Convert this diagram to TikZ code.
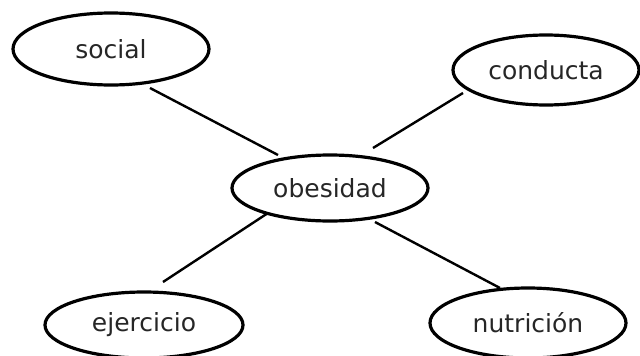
\documentclass[tikz,border=0pt]{standalone}
\usepackage{fontspec}
\setmainfont{DejaVu Sans}
\usetikzlibrary{shapes.geometric}
\begin{document}
\begin{tikzpicture}[x=1pt,y=-1pt,
  bubble/.style={ellipse,draw=black,line width=3.2pt,inner sep=0pt,outer sep=0pt,
    text=black!85,font=\fontsize{25}{30}\selectfont},
  link/.style={draw=black,line width=2.4pt}]
\useasboundingbox (0,0) rectangle (640,356);
\clip (0,0) rectangle (640,356);
\node[bubble,minimum width=196pt,minimum height=72pt] (social) at (111,49) {social};
\node[bubble,minimum width=186pt,minimum height=70pt] (conducta) at (546,70) {conducta};
\node[bubble,minimum width=196pt,minimum height=66pt] (obesidad) at (330,188) {obesidad};
\node[bubble,minimum width=198pt,minimum height=66pt] (ejercicio) at (144,325) {ejercicio};
\node[bubble,minimum width=196pt,minimum height=70pt] (nutricion) at (528,323) {nutrición};
\draw[link] ([shift={(39,39)}]social.center) -- ([shift={(-52,-33)}]obesidad.center);
\draw[link] ([shift={(-83,23)}]conducta.center) -- ([shift={(43,-40)}]obesidad.center);
\draw[link] ([shift={(-62,25)}]obesidad.center) -- ([shift={(19,-43)}]ejercicio.center);
\draw[link] ([shift={(45,34)}]obesidad.center) -- ([shift={(-28,-35)}]nutricion.center);
\end{tikzpicture}
\end{document}
